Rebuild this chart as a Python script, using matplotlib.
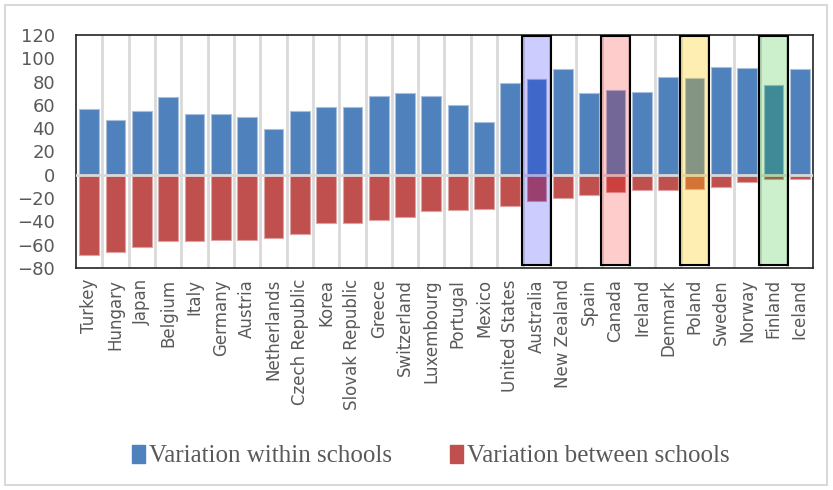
import numpy as np
from matplotlib import pyplot as plt
from matplotlib.patches import Rectangle, Patch

countries = ['Turkey', 'Hungary', 'Japan', 'Belgium', 'Italy', 'Germany', 'Austria',
             'Netherlands', 'Czech Republic', 'Korea', 'Slovak Republic', 'Greece',
             'Switzerland', 'Luxembourg', 'Portugal', 'Mexico', 'United States',
             'Australia', 'New Zealand', 'Spain', 'Canada', 'Ireland', 'Denmark',
             'Poland', 'Sweden', 'Norway', 'Finland', 'Iceland']
within = [56.3, 47.4, 55.1, 66.6, 52.0, 52.6, 49.4, 39.4, 55.1, 58.0, 58.0, 68.0,
          70.0, 67.7, 60.0, 44.9, 78.6, 82.3, 90.9, 70.0, 72.6, 71.1, 84.0, 82.9,
          92.9, 91.7, 77.1, 90.9]
between = [-68.9, -66.3, -62.3, -56.9, -56.9, -56.3, -55.7, -54.6, -50.6, -41.7,
           -41.4, -38.9, -36.3, -31.4, -30.6, -29.1, -27.1, -22.3, -20.0, -17.4,
           -15.1, -13.4, -13.1, -12.0, -10.9, -6.6, -3.7, -3.7]
highlight = {'Australia': (0, 0, 1, 0.2), 'Canada': (1, 0, 0, 0.2),
             'Poland': (1, 0.78, 0, 0.3), 'Finland': (0, 0.7, 0, 0.2)}

blue = '#4F81BD'
red = '#C0504D'
grey = '#595959'

fig = plt.figure(figsize=(8.33, 4.9), dpi=100)
ax = fig.add_axes([76 / 833, 1 - 268 / 490, (813 - 76) / 833, (268 - 35) / 490])

x = np.arange(len(countries))
for p in x[:-1] + 0.5:
    ax.axvline(p, color='#D9D9D9', lw=2, zorder=0)
ax.axhline(0, color='#D9D9D9', lw=2, zorder=3)
ax.bar(x, within, width=0.75, color=blue, edgecolor='#A8C0DE', lw=0.8, zorder=2)
ax.bar(x, between, width=0.75, color=red, edgecolor='#DDA3A2', lw=0.8, zorder=2)

for name, col in highlight.items():
    i = countries.index(name)
    ax.add_patch(Rectangle((i - 0.55, -77), 1.1, 196.5, facecolor=col,
                           edgecolor='black', lw=1.5, zorder=4))

ax.set_xlim(-0.5, len(countries) - 0.5)
ax.set_ylim(-80, 120)
ax.set_yticks(np.arange(-80, 121, 20))
ax.set_xticks(x)
ax.set_xticklabels(countries, rotation=90, fontsize=12, color=grey)
ax.tick_params(axis='x', length=0, pad=8)
ax.tick_params(axis='y', length=0, pad=15, labelsize=13, labelcolor=grey)
for s in ax.spines.values():
    s.set_color('#222222')
    s.set_linewidth(1.2)

handles = [Patch(color=blue, label='Variation within schools'),
           Patch(color=red, label='Variation between schools')]
leg = fig.legend(handles=handles, loc='center', bbox_to_anchor=(0.517, 1 - 456 / 490),
                 ncol=2, frameon=False, handlelength=0.55, handleheight=0.75,
                 handletextpad=0.15, columnspacing=2.3,
                 prop={'family': 'Liberation Serif', 'size': 18})
for t in leg.get_texts():
    t.set_color(grey)

fig.patches.append(Rectangle((5, 5), 822, 480, transform=None, fill=False,
                             edgecolor='#D9D9D9', lw=1.5))
fig.savefig('out.png')
